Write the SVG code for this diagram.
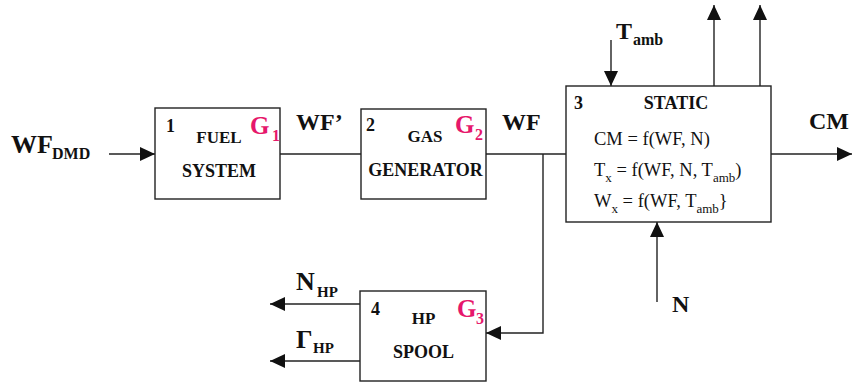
<svg xmlns="http://www.w3.org/2000/svg" width="856" height="383" viewBox="0 0 856 383">
<style>
.b{font-weight:bold;fill:#111}
.r{fill:#111}
.g{font-weight:bold;fill:#E6176B}
.box{fill:#fff;stroke:#222;stroke-width:1.4}
.c{fill:none;stroke:#222;stroke-width:1.4}
</style>
<defs>
<marker id="ah" markerUnits="userSpaceOnUse" markerWidth="16" markerHeight="14" refX="15" refY="7" orient="auto">
<path d="M0,0 L15,7 L0,14 z" fill="#111"/>
</marker>
</defs>
<rect width="856" height="383" fill="#fff"/>
<g id="connectors">
<line class="c" x1="109" y1="154" x2="155" y2="154" marker-end="url(#ah)"/>
<line class="c" x1="280" y1="154" x2="361" y2="154"/>
<line class="c" x1="486" y1="154" x2="566" y2="154"/>
<polyline class="c" points="543,154 543,333 486,333" marker-end="url(#ah)"/>
<line class="c" x1="771" y1="154" x2="852" y2="154" marker-end="url(#ah)"/>
<line class="c" x1="611" y1="40" x2="611" y2="86" marker-end="url(#ah)"/>
<line class="c" x1="714" y1="86" x2="714" y2="5" marker-end="url(#ah)"/>
<line class="c" x1="760" y1="86" x2="760" y2="5" marker-end="url(#ah)"/>
<line class="c" x1="657" y1="302" x2="657" y2="222" marker-end="url(#ah)"/>
<line class="c" x1="360" y1="304" x2="270" y2="304" marker-end="url(#ah)"/>
<line class="c" x1="360" y1="361" x2="270" y2="361" marker-end="url(#ah)"/>
</g>
<g id="labels">
<text class="b" font-family="Liberation Serif" x="11" y="153" font-size="26">WF</text>
<text class="b" font-family="Liberation Serif" x="52" y="159" font-size="16">DMD</text>
<text class="b" font-family="Liberation Serif" x="296" y="130" font-size="24">WF’</text>
<text class="b" font-family="Liberation Serif" x="502" y="130" font-size="24">WF</text>
<text class="b" font-family="Liberation Serif" x="809" y="129" font-size="24">CM</text>
<text class="b" font-family="Liberation Serif" x="616" y="39" font-size="24">T</text>
<text class="b" font-family="Liberation Serif" x="633" y="45" font-size="16">amb</text>
<text class="b" font-family="Liberation Serif" x="672" y="312" font-size="24">N</text>
<text class="b" font-family="Liberation Serif" x="296" y="290" font-size="26">N</text>
<text class="b" font-family="Liberation Serif" x="317" y="297" font-size="15">HP</text>
<text class="b" font-family="Liberation Serif" x="296" y="348" font-size="26">Γ</text>
<text class="b" font-family="Liberation Serif" x="313" y="353" font-size="15">HP</text>
</g>
<g id="node1">
<rect class="box" x="155" y="108" width="125" height="91"/>
<text class="b" font-family="Liberation Serif" x="166" y="132" font-size="18">1</text>
<text class="b" font-family="Liberation Serif" x="219" y="143" font-size="17" text-anchor="middle">FUEL</text>
<text class="b" font-family="Liberation Serif" x="219" y="177" font-size="18" text-anchor="middle">SYSTEM</text>
<text class="g" font-family="Liberation Serif" x="250" y="134" font-size="25">G</text>
<text class="g" font-family="Liberation Serif" x="272" y="141" font-size="16">1</text>
</g>
<g id="node2">
<rect class="box" x="361" y="109" width="125" height="90"/>
<text class="b" font-family="Liberation Serif" x="366" y="131" font-size="18">2</text>
<text class="b" font-family="Liberation Serif" x="425" y="142" font-size="17" text-anchor="middle">GAS</text>
<text class="b" font-family="Liberation Serif" x="425.5" y="176" font-size="18" text-anchor="middle">GENERATOR</text>
<text class="g" font-family="Liberation Serif" x="455" y="133" font-size="25">G</text>
<text class="g" font-family="Liberation Serif" x="475" y="140" font-size="16">2</text>
</g>
<g id="node3">
<rect class="box" x="566" y="86" width="205" height="136"/>
<text class="b" font-family="Liberation Serif" x="574" y="109" font-size="18">3</text>
<text class="b" font-family="Liberation Serif" x="676" y="109" font-size="18" text-anchor="middle">STATIC</text>
<text class="r" font-family="Liberation Serif" font-size="18.5" x="594" y="145">CM = f(WF, N)</text>
<text class="r" font-family="Liberation Serif" font-size="18.5" x="594" y="176">T<tspan font-size="13" dy="6">x</tspan><tspan dy="-6"> = f(WF, N, T</tspan><tspan font-size="13" dy="6">amb</tspan><tspan dy="-6">)</tspan></text>
<text class="r" font-family="Liberation Serif" font-size="18.5" x="594" y="207">W<tspan font-size="13" dy="6">x</tspan><tspan dy="-6"> = f(WF, T</tspan><tspan font-size="13" dy="6">amb</tspan><tspan dy="-6">}</tspan></text>
</g>
<g id="node4">
<rect class="box" x="360" y="291" width="126" height="90"/>
<text class="b" font-family="Liberation Serif" x="371" y="315" font-size="18">4</text>
<text class="b" font-family="Liberation Serif" x="423.5" y="324" font-size="17" text-anchor="middle">HP</text>
<text class="b" font-family="Liberation Serif" x="423.5" y="358" font-size="18" text-anchor="middle">SPOOL</text>
<text class="g" font-family="Liberation Serif" x="457" y="317" font-size="25">G</text>
<text class="g" font-family="Liberation Serif" x="476" y="324" font-size="16">3</text>
</g>
</svg>
